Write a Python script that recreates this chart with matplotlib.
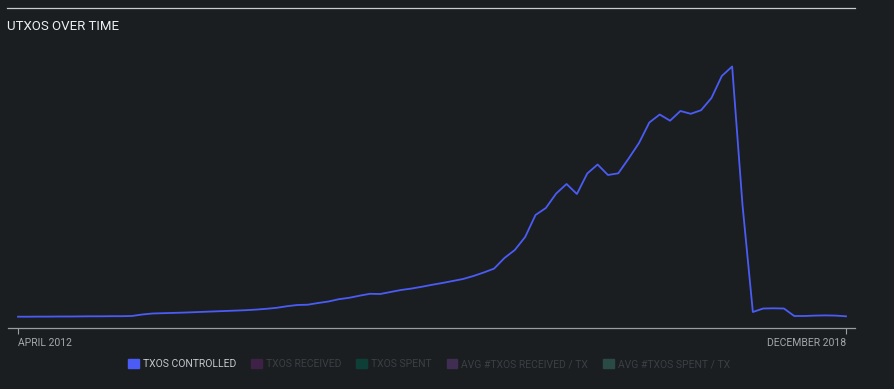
import matplotlib

matplotlib.use("Agg")
import matplotlib.pyplot as plt
import matplotlib.patches as mpatches
from matplotlib.lines import Line2D

BG = "#1b1e21"

# UTXOs controlled, one value per month, April 2012 .. December 2018
months = list(range(81))
tick_positions = [0, 80]
tick_labels = ["APRIL 2012", "DECEMBER 2018"]
txos_controlled = [
    113, 113, 114, 114, 115, 115, 116, 117, 117, 118, 118, 120,
    135, 145, 148, 151, 154, 158, 162, 166, 170, 174, 178, 184,
    192, 202, 218, 230, 233, 250, 265, 288, 302, 323, 342, 340,
    360, 380, 394, 412, 432, 450, 470, 490, 520, 555, 594, 700,
    780, 910, 1130, 1200, 1345, 1440, 1340, 1545, 1635, 1530, 1547, 1695,
    1850, 2055, 2135, 2073, 2170, 2142, 2178, 2300, 2520, 2615, 1230, 160,
    195, 197, 195, 120, 120, 124, 126, 124, 117,
]

legend_names = [
    "TXOS CONTROLLED",
    "TXOS RECEIVED",
    "TXOS SPENT",
    "AVG #TXOS RECEIVED / TX",
    "AVG #TXOS SPENT / TX",
]
legend_colors = ["#4a5cf5", "#3e2146", "#0e3f37", "#3f2d52", "#2a4b45"]
legend_text_colors = ["#c4c7cb", "#3b3e43", "#3b3e43", "#3b3e43", "#3b3e43"]

plt.rcParams["font.family"] = ["Roboto", "DejaVu Sans"]

fig = plt.figure(figsize=(8.94, 3.89), dpi=100)
fig.patch.set_facecolor(BG)

# top rule and title
fig.add_artist(Line2D([7 / 894, 855 / 894], [1 - 8 / 389, 1 - 8 / 389],
                      color="#c9cbce", linewidth=0.9))
fig.text(7 / 894, 1 - 26 / 389, "UTXOS OVER TIME", color="#eceef0",
         fontsize=9.5, ha="left", va="center")

ax = fig.add_axes([8 / 894, 61 / 389, 847 / 894, 288 / 389])
ax.set_facecolor(BG)
ax.plot(months, txos_controlled, color="#4a5cf5", linewidth=1.3)

ax.set_xlim(-10 / 10.35, 80 + 9 / 10.35)
ax.set_ylim(0, 2880)

for name in ["top", "right", "left"]:
    ax.spines[name].set_visible(False)
ax.spines["bottom"].set_color("#9a9ea3")
ax.spines["bottom"].set_linewidth(0.9)

ax.set_yticks([])
ax.set_xticks(tick_positions)
ax.set_xticklabels(tick_labels, fontsize=7.5, color="#a3a7ab")
ax.tick_params(axis="x", length=4, width=0.8, color="#9a9ea3", pad=3)
labels = ax.get_xticklabels()
labels[0].set_ha("left")
labels[-1].set_ha("right")

handles = [mpatches.Patch(color=c, label=n) for c, n in zip(legend_colors, legend_names)]
leg = fig.legend(
    handles=handles,
    loc="center",
    bbox_to_anchor=(429 / 894, 1 - 364 / 389),
    ncol=5,
    frameon=False,
    fontsize=7.5,
    handlelength=1.0,
    handleheight=1.0,
    handletextpad=0.4,
    columnspacing=1.45,
)
for txt, col in zip(leg.get_texts(), legend_text_colors):
    txt.set_color(col)

fig.savefig("out.png", dpi=100, facecolor=BG)
plt.close(fig)
